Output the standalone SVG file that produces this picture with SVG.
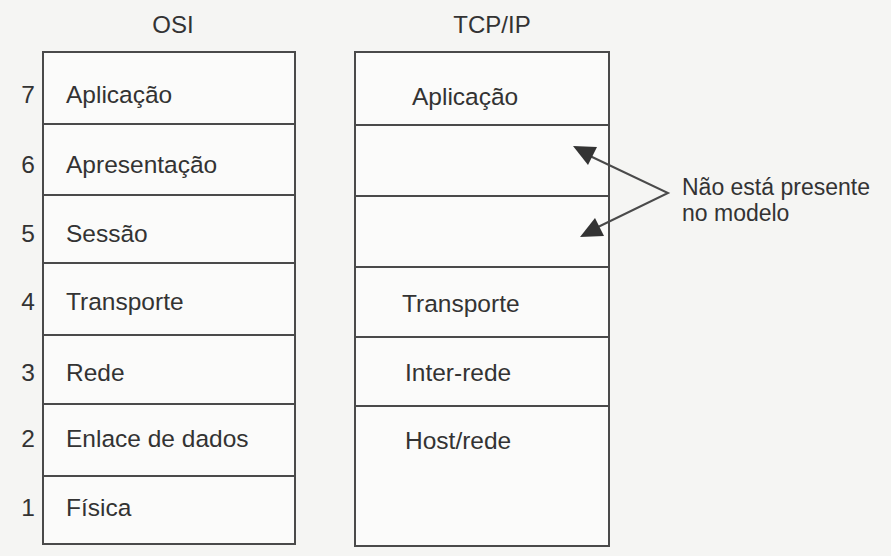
<svg xmlns="http://www.w3.org/2000/svg" width="891" height="556" viewBox="0 0 891 556">
<style>
  .box { fill: #fbfbfa; stroke: #4a4a4a; stroke-width: 2; }
  .lbl { font-family: "Liberation Sans", Arial, sans-serif; font-size: 24.5px; fill: #333333; }
  .note { font-family: "Liberation Sans", Arial, sans-serif; font-size: 23px; fill: #333333; }
  .num { font-family: "Liberation Sans", Arial, sans-serif; font-size: 24.5px; fill: #333333; text-anchor: middle; }
  .title { font-family: "Liberation Sans", Arial, sans-serif; font-size: 24px; fill: #333333; text-anchor: middle; }
  .conn { stroke: #4a4a4a; stroke-width: 2; fill: none; }
  .head { fill: #333333; }
</style>
<rect x="0" y="0" width="891" height="556" fill="#f5f5f3"/>

<g id="osi-title"><text class="title" x="173" y="33">OSI</text></g>
<g id="tcpip-title"><text class="title" x="492" y="33">TCP/IP</text></g>

<g id="osi-7"><rect class="box" x="43" y="52" width="252" height="72"/><text class="num" x="28" y="103">7</text><text class="lbl" x="66" y="103">Aplicação</text></g>
<g id="osi-6"><rect class="box" x="43" y="124" width="252" height="71"/><text class="num" x="28" y="173">6</text><text class="lbl" x="66" y="173">Apresentação</text></g>
<g id="osi-5"><rect class="box" x="43" y="195" width="252" height="68"/><text class="num" x="28" y="242">5</text><text class="lbl" x="66" y="242">Sessão</text></g>
<g id="osi-4"><rect class="box" x="43" y="263" width="252" height="72"/><text class="num" x="28" y="310">4</text><text class="lbl" x="66" y="310">Transporte</text></g>
<g id="osi-3"><rect class="box" x="43" y="335" width="252" height="69"/><text class="num" x="28" y="381">3</text><text class="lbl" x="66" y="381">Rede</text></g>
<g id="osi-2"><rect class="box" x="43" y="404" width="252" height="72"/><text class="num" x="28" y="447">2</text><text class="lbl" x="66" y="447">Enlace de dados</text></g>
<g id="osi-1"><rect class="box" x="43" y="476" width="252" height="68"/><text class="num" x="28" y="516">1</text><text class="lbl" x="66" y="516">Física</text></g>

<g id="tcp-aplicacao"><rect class="box" x="355" y="52" width="254" height="73"/><text class="lbl" x="412" y="105">Aplicação</text></g>
<g id="tcp-vazio-1"><rect class="box" x="355" y="125" width="254" height="71"/></g>
<g id="tcp-vazio-2"><rect class="box" x="355" y="196" width="254" height="71"/></g>
<g id="tcp-transporte"><rect class="box" x="355" y="267" width="254" height="70"/><text class="lbl" x="402" y="312">Transporte</text></g>
<g id="tcp-inter-rede"><rect class="box" x="355" y="337" width="254" height="69"/><text class="lbl" x="405" y="381">Inter-rede</text></g>
<g id="tcp-host-rede"><rect class="box" x="355" y="406" width="254" height="140"/><text class="lbl" x="405" y="449">Host/rede</text></g>

<g id="nota"><text class="note" x="682" y="195">Não está presente</text><text class="note" x="682" y="221">no modelo</text></g>

<g id="connectors">
  <polyline class="conn" points="590,156 668,193 598,227"/>
  <polygon class="head" points="573,146 597,147 588,165"/>
  <polygon class="head" points="580,237 604,236 595,218"/>
</g>
</svg>
